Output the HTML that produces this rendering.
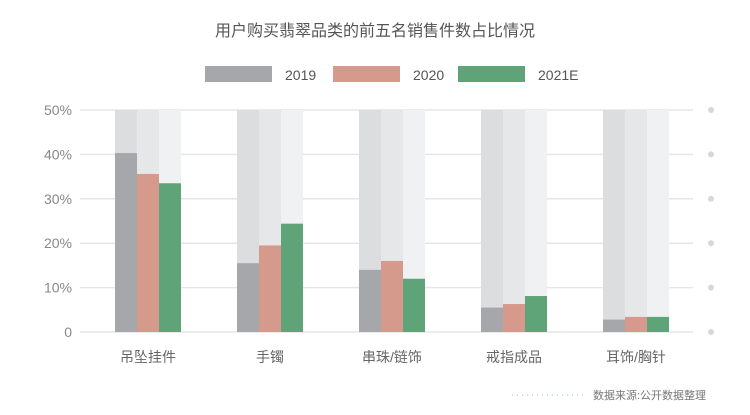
<!DOCTYPE html>
<html><head><meta charset="utf-8"><style>
body{margin:0;background:#fff;width:750px;height:410px;overflow:hidden;font-family:"Liberation Sans","Noto Sans CJK SC",sans-serif}
</style></head><body>
<svg id="c" width="750" height="410" xmlns="http://www.w3.org/2000/svg">
<text x="375" y="36" text-anchor="middle" font-size="16" fill="#555" font-family="Liberation Sans, Noto Sans CJK SC, sans-serif">用户购买翡翠品类的前五名销售件数占比情况</text>
<g>
<rect x="205" y="66" width="67" height="16" fill="#a6a7aa"/>
<text x="285" y="80" font-size="14" fill="#555">2019</text>
<rect x="333" y="66" width="67" height="16" fill="#d59a8c"/>
<text x="413" y="80" font-size="14" fill="#555">2020</text>
<rect x="458" y="66" width="67" height="16" fill="#5fa478"/>
<text x="538" y="80" font-size="14" fill="#555">2021E</text>
</g>
<g id="plot"></g>
<line x1="512" y1="395" x2="585" y2="395" stroke="#9cc8b4" stroke-width="1" stroke-dasharray="1,4"/>
<text x="593" y="399" font-size="11" fill="#777" font-family="Liberation Sans, Noto Sans CJK SC, sans-serif">数据来源:公开数据整理</text>
</svg>
<script>
const categories=["吊坠挂件","手镯","串珠/链饰","戒指成品","耳饰/胸针"];
const s2019=[40.3,15.5,14.0,5.5,2.8];
const s2020=[35.6,19.5,16.0,6.3,3.4];
const s2021=[33.5,24.4,12.0,8.1,3.4];
const ticks=[0,10,20,30,40,50];
const tickLabels=["0","10%","20%","30%","40%","50%"];
const NS="http://www.w3.org/2000/svg";
const g=document.getElementById("plot");
const y=v=>332-v*(222/50);
const xc=i=>148+i*122;
function mk(t,a){const e=document.createElementNS(NS,t);for(const k in a)e.setAttribute(k,a[k]);g.appendChild(e);return e;}
ticks.forEach((t,i)=>{
 const l=mk("line",{x1:80,x2:693,y1:y(t),y2:y(t),stroke:"#e6e6e8","stroke-width":1.5});
 
 
 const tx=mk("text",{x:72,y:y(t)+5,"text-anchor":"end","font-size":14,fill:"#888"});
 tx.textContent=tickLabels[i];
 
 
 const d=mk("circle",{cx:711,cy:y(t),r:3,fill:"#d8d8da"});
 
 
});
const series=[s2019,s2020,s2021];
const fg=["#a6a7aa","#d59a8c","#5fa478"];
const bg=["#dcdddf","#e6e7e9","#f0f1f3"];
categories.forEach((c,i)=>{
 series.forEach((s,j)=>{
  const x=xc(i)-33+j*22;
  const b=mk("rect",{x:x,y:y(50),width:22,height:y(0)-y(50),fill:bg[j]});
  
  
  const r=mk("rect",{x:x,y:y(s[i]),width:22,height:y(0)-y(s[i]),fill:fg[j]});
  
  
 });
 const t=mk("text",{x:xc(i),y:362,"text-anchor":"middle","font-size":14,fill:"#666","font-family":"Liberation Sans, Noto Sans CJK SC, sans-serif"});
 t.textContent=c;
 
 
});
</script>
</body></html>
